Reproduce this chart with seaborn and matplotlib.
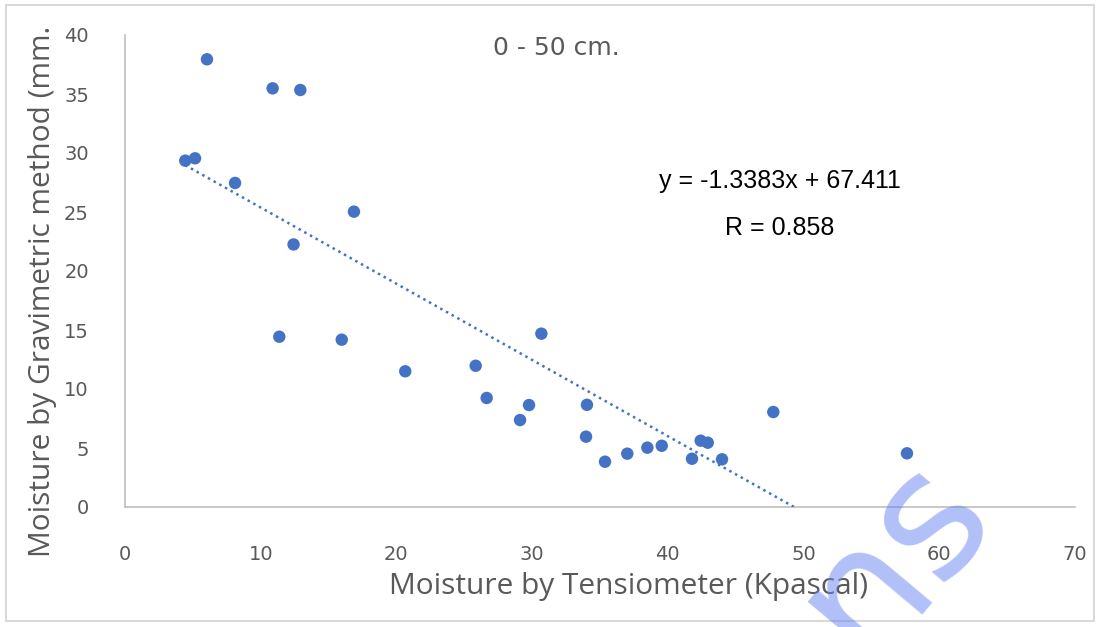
import matplotlib
matplotlib.use("Agg")
import matplotlib.pyplot as plt
import seaborn as sns
import pandas as pd
from matplotlib.patches import Rectangle

# Data
tensiometer = [4.44, 5.16, 6.04, 8.11, 10.88, 12.92, 12.42, 11.37, 16.87, 15.97,
               20.65, 25.84, 26.65, 29.77, 29.11, 30.68, 34.04, 33.97, 35.37, 37.01,
               38.49, 39.55, 42.42, 42.94, 41.78, 43.99, 47.77, 57.62]
gravimetric = [29.35, 29.55, 37.94, 27.46, 35.48, 35.34, 22.25, 14.43, 25.03, 14.18,
               11.50, 11.97, 9.24, 8.64, 7.37, 14.69, 8.66, 5.96, 3.84, 4.52,
               5.03, 5.19, 5.62, 5.45, 4.09, 4.04, 8.05, 4.55]
x_ticks = [0, 10, 20, 30, 40, 50, 60, 70]
y_ticks = [0, 5, 10, 15, 20, 25, 30, 35, 40]

df = pd.DataFrame({"x": tensiometer, "y": gravimetric})

sns.set_theme(style="white")
plt.rcParams["font.family"] = ["Liberation Sans", "DejaVu Sans"]

fig = plt.figure(figsize=(11, 6.27), dpi=100)
ax = fig.add_axes([125 / 1100, 120 / 627, 950 / 1100, 472 / 627])

blue = "#4472C4"
gray = "#595959"
sns.regplot(data=df, x="x", y="y", ax=ax, ci=None, truncate=True,
            scatter_kws=dict(s=80, color=blue, edgecolor="none", alpha=1, zorder=3),
            line_kws=dict(color=blue, linestyle=(0, (1, 1.6)), linewidth=1.8, zorder=4))

ax.set_xlim(0, 70)
ax.set_ylim(0, 40)
ax.set_xticks(x_ticks)
ax.set_yticks(y_ticks)
ax.tick_params(axis="both", length=0, labelsize=14, labelcolor=gray)
ax.tick_params(axis="x", pad=27)
ax.tick_params(axis="y", pad=26)
for lab in ax.get_xticklabels() + ax.get_yticklabels():
    lab.set_family(["Liberation Sans Narrow", "DejaVu Sans"])

for s in ["top", "right"]:
    ax.spines[s].set_visible(False)
for s in ["left", "bottom"]:
    ax.spines[s].set_color("#bfbfbf")
    ax.spines[s].set_linewidth(1.2)

ax.set_xlabel("Moisture by Tensiometer (Kpascal)", fontsize=21.5, color=gray,
              family=["Open Sans", "DejaVu Sans"])
ax.set_ylabel("Moisture by Gravimetric method (mm.", fontsize=21.5, color=gray,
              family=["Open Sans", "DejaVu Sans"])
ax.xaxis.set_label_coords((629 - 125) / 950, (507 - 572) / 472)
ax.yaxis.set_label_coords((57 - 125) / 950, (507 - 291) / 472)

fig.text(556 / 1100, 1 - 48 / 627, "0 - 50 cm.", ha="center", va="center",
         fontsize=18, color=gray, family=["DejaVu Sans"])
fig.text(780 / 1100, 1 - 181 / 627, "y = -1.3383x + 67.411", ha="center", va="center",
         fontsize=18, color="black")
fig.text(780 / 1100, 1 - 228 / 627, "R = 0.858", ha="center", va="center",
         fontsize=18, color="black")

# watermark (partly cut by the lower edge, as in the reference)
fig.text(893 / 1100, 1 - 556 / 627, "ns", ha="center", va="center", rotation=50,
         fontsize=125, color="#6482f0", alpha=0.5, family=["DejaVu Sans"])

# outer frame
fig.patches.append(Rectangle((6 / 1100, 6 / 627), 1088 / 1100, 616 / 627,
                             transform=fig.transFigure, fill=False,
                             edgecolor="#d9d9d9", linewidth=1.5))

fig.savefig("out.png", dpi=100)
